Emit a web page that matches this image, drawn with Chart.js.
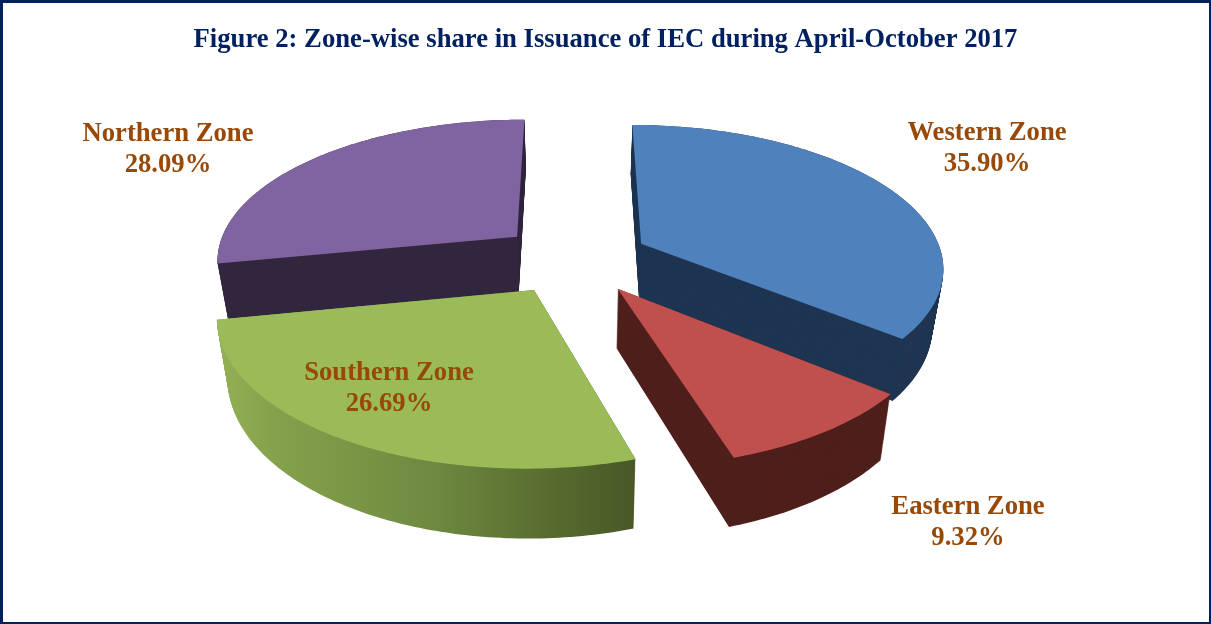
<!DOCTYPE html>
<html>
<head>
<meta charset="utf-8">
<style>html,body{margin:0;padding:0;background:#fff}canvas{display:block}</style>
<script src="https://cdn.jsdelivr.net/npm/chart.js@4/dist/chart.umd.min.js"></script>
</head>
<body>
<canvas id="c" width="1211" height="624"></canvas>
<script>
const TITLE = 'Figure 2: Zone-wise share in Issuance of IEC during April-October 2017';
const categories = ['Western Zone', 'Eastern Zone', 'Southern Zone', 'Northern Zone'];
const shares = [35.90, 9.32, 26.69, 28.09];
const topColors = ['#4f81bd', '#c0504d', '#9bbb59', '#8064a2'];
const labelAnchors = [[987, 140], [968, 514], [389, 380], [168, 141]];
const drawOrder = [3, 0, 2, 1];

// view of the flat pie: tilt, explosion and thickness of the 3-D look
const VIEW = {cx: 574, cy: 258.6, rx: 302, ry: 141, tilt: 0.152, explode: 0.25, depth: 57, shrink: 0.03};

function project(u, v, t) {
  const w = 1 - VIEW.tilt * v;
  return [VIEW.cx + VIEW.rx * u * (1 - VIEW.shrink * t) / w,
          VIEW.cy + (VIEW.ry * v + t * VIEW.depth) / w];
}

// context handed to ArcElement.draw: re-projects the path the library traces
function projectedContext(ctx, el, t, keepFill) {
  const R = el.outerRadius, mid = (el.startAngle + el.endAngle) / 2;
  const ex = VIEW.explode * Math.cos(mid), ey = VIEW.explode * Math.sin(mid);
  let started = false;
  const put = (x, y) => {
    const p = project((x - el.x) / R + ex, (y - el.y) / R + ey, t);
    if (started) ctx.lineTo(p[0], p[1]); else ctx.moveTo(p[0], p[1]);
    started = true;
  };
  const own = {
    beginPath() { started = false; ctx.beginPath(); },
    moveTo(x, y) { put(x, y); },
    lineTo(x, y) { put(x, y); },
    arc(x, y, r, a0, a1, ccw) {
      if (!(r > 0) || !isFinite(a0) || !isFinite(a1)) return;
      let d = a1 - a0;
      if (ccw && d > 0) d -= 2 * Math.PI;
      const n = Math.max(2, Math.ceil(Math.abs(d) * 60));
      for (let i = 0; i <= n; i++) {
        const a = a0 + d * i / n;
        put(x + r * Math.cos(a), y + r * Math.sin(a));
      }
    },
    translate() {}
  };
  return new Proxy(ctx, {
    get(target, k) {
      if (k in own) return own[k];
      const val = target[k];
      return typeof val === 'function' ? val.bind(target) : val;
    },
    set(target, k, val) {
      if (k === 'fillStyle' && keepFill) return true;
      target[k] = val;
      return true;
    }
  });
}

function wallPaint(ctx, index) {
  const g = ctx.createLinearGradient(220, 0, 640, 0);
  if (index === 2) {
    g.addColorStop(0, '#93b055');
    g.addColorStop(0.12, '#86a24c');
    g.addColorStop(0.5, '#6f8a40');
    g.addColorStop(0.8, '#566a2e');
    g.addColorStop(1, '#475726');
    return g;
  }
  return ['#1f3552', '#4f1f1c', null, '#33273f'][index];
}

const pie3d = {
  id: 'pie3d',
  beforeDraw(chart) {
    const ctx = chart.ctx;
    ctx.save();
    ctx.fillStyle = '#002060';
    ctx.fillRect(0, 0, 1211, 624);
    ctx.fillStyle = '#ffffff';
    ctx.fillRect(3, 3, 1206, 619);
    ctx.restore();
  },
  beforeDatasetsDraw(chart) {
    const ctx = chart.ctx, arcs = chart.getDatasetMeta(0).data;
    drawOrder.forEach(i => {
      const el = arcs[i];
      for (let t = 1; t > 0; t -= 1 / 70) {
        ctx.save();
        ctx.fillStyle = wallPaint(ctx, i);
        el.draw(projectedContext(ctx, el, t, true));
        ctx.restore();
      }
      ctx.save();
      el.draw(projectedContext(ctx, el, 0, false));
      ctx.restore();
    });
    return false;
  },
  afterDraw(chart) {
    const ctx = chart.ctx;
    ctx.save();
    ctx.font = 'bold 26.67px "Liberation Serif"';
    ctx.fillStyle = '#984807';
    ctx.textAlign = 'center';
    ctx.textBaseline = 'alphabetic';
    categories.forEach((name, i) => {
      const a = labelAnchors[i];
      ctx.fillText(name, a[0], a[1]);
      ctx.fillText(shares[i].toFixed(2) + '%', a[0], a[1] + 31);
    });
    ctx.restore();
  }
};

new Chart(document.getElementById('c'), {
  type: 'pie',
  data: {
    labels: categories,
    datasets: [{data: shares, backgroundColor: topColors, borderWidth: 0}]
  },
  options: {
    responsive: false,
    animation: false,
    events: [],
    devicePixelRatio: 1,
    rotation: 0,
    layout: {padding: {top: 10}},
    plugins: {
      legend: {display: false},
      tooltip: {enabled: false},
      title: {
        display: true,
        text: TITLE,
        color: '#002060',
        font: {family: '"Liberation Serif"', size: 26.67, weight: 'bold'},
        padding: {top: 14, bottom: 10}
      }
    }
  },
  plugins: [pie3d]
});
</script>
</body>
</html>
